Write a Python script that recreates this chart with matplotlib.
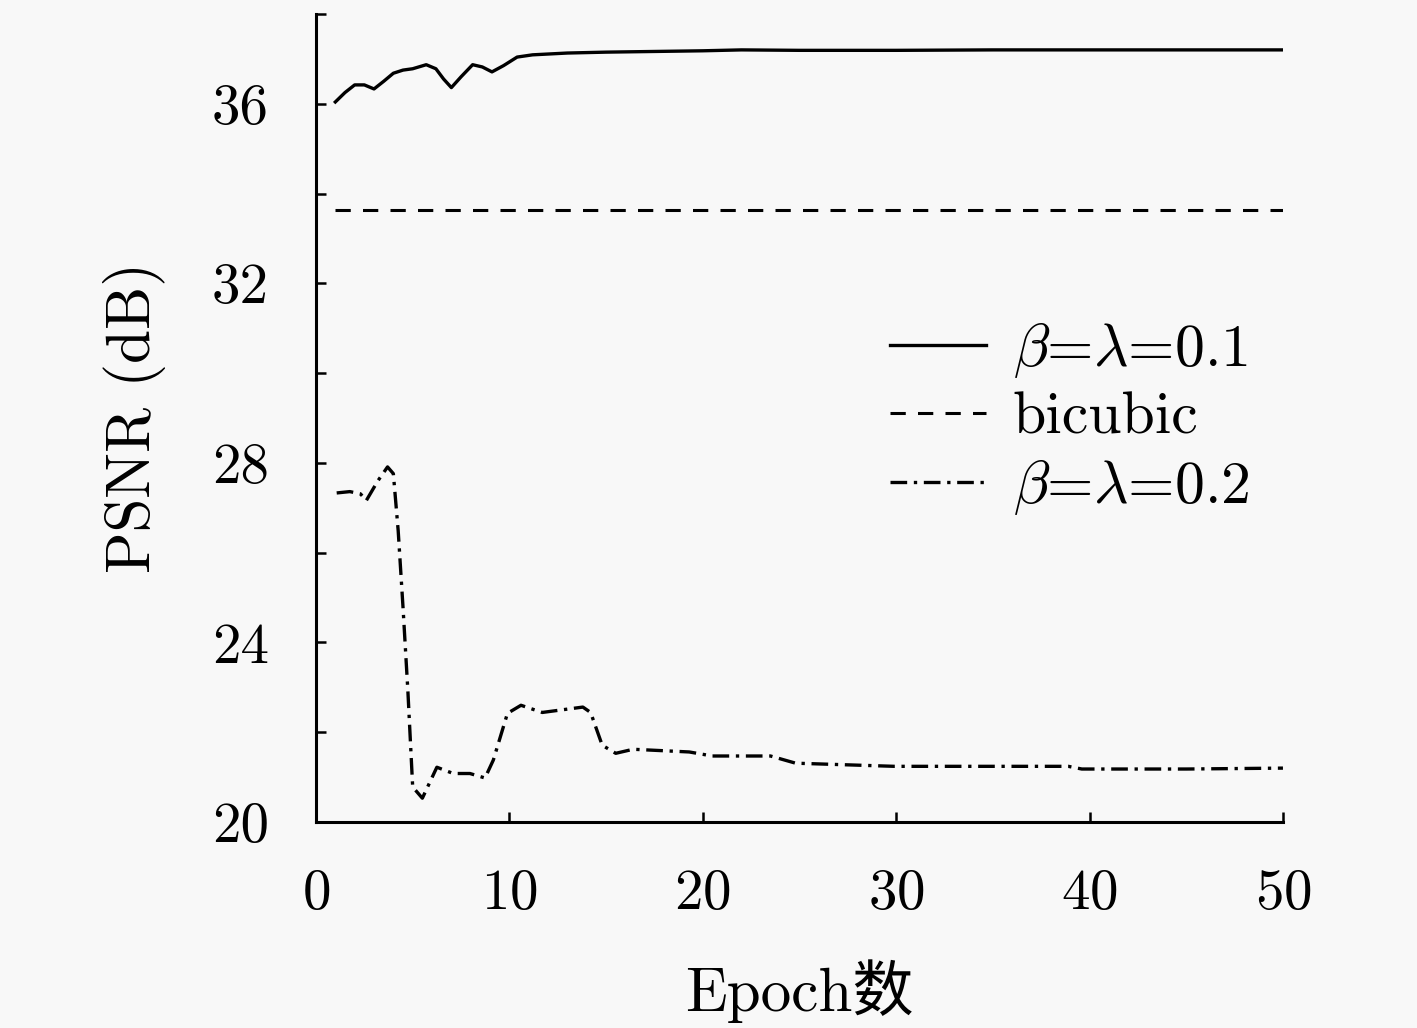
import numpy as np
import matplotlib.pyplot as plt

plt.rcParams['mathtext.fontset'] = 'cm'
plt.rcParams['font.family'] = ['cmr10', 'Noto Sans CJK SC', 'DejaVu Sans']
plt.rcParams['axes.formatter.use_mathtext'] = True

# beta = lambda = 0.1
ep_a = [1.0, 1.5, 2.0, 2.5, 3.0, 3.5, 4.0, 4.5, 5.0, 5.7, 6.2, 6.6, 7.0, 7.5, 8.1,
        8.6, 9.1, 9.7, 10.4, 11.2, 13.0, 15.0, 20.0, 22.0, 25.0, 30.0, 35.0, 40.0, 45.0, 50.0]
psnr_a = [36.04, 36.25, 36.42, 36.42, 36.33, 36.5, 36.68, 36.75, 36.78, 36.87, 36.78, 36.55,
          36.36, 36.6, 36.87, 36.82, 36.71, 36.85, 37.04, 37.09, 37.13, 37.15, 37.18, 37.2,
          37.19, 37.19, 37.2, 37.2, 37.2, 37.2]

# bicubic
ep_b = [1.0, 50.0]
psnr_b = [33.64, 33.64]

# beta = lambda = 0.2
ep_c = [1.07, 1.75, 2.3, 2.6, 3.2, 3.7, 4.0, 4.25, 4.5, 4.75, 5.0, 5.5, 6.25, 7.1, 7.96,
        8.74, 9.17, 9.9, 10.6, 11.7, 13.8, 14.2, 14.8, 15.5, 16.4, 19.3, 20.5, 23.5, 24.8,
        29.9, 38.9, 39.6, 45.0, 50.0]
psnr_c = [27.33, 27.36, 27.31, 27.16, 27.6, 27.91, 27.76, 26.49, 24.78, 22.93, 20.78, 20.53,
          21.22, 21.08, 21.08, 20.98, 21.38, 22.42, 22.6, 22.44, 22.56, 22.44, 21.71, 21.53,
          21.62, 21.56, 21.47, 21.47, 21.31, 21.24, 21.24, 21.18, 21.18, 21.2]

labels = [r'$\beta$=$\lambda$=0.1', 'bicubic', r'$\beta$=$\lambda$=0.2']

fig = plt.figure(figsize=(14.17, 10.28), dpi=100, facecolor='#f8f8f8')
ax = fig.add_axes([0.223, 0.2004, 0.6824, 0.786])
ax.set_facecolor('#f8f8f8')

ax.plot(ep_a, psnr_a, color='black', lw=2.4, label=labels[0])
ax.plot(ep_b, psnr_b, color='black', lw=2.2, dashes=(5, 4), label=labels[1])
ax.plot(ep_c, psnr_c, color='black', lw=2.4, dashes=(5, 2, 1, 2), label=labels[2])

ax.set_xlim(0, 50)
ax.set_ylim(20, 38)
ax.set_xticks(range(0, 51, 10))
ax.set_yticks(range(20, 39, 2))
ax.set_yticklabels([str(v) if v % 4 == 0 and v < 38 else '' for v in range(20, 39, 2)])

for s in ['top', 'right']:
    ax.spines[s].set_visible(False)
for s in ['left', 'bottom']:
    ax.spines[s].set_linewidth(2.2)

ax.tick_params(direction='in', length=7, width=1.8, labelsize=41)
ax.tick_params(axis='y', pad=34)
ax.tick_params(axis='x', pad=34)

ax.set_ylabel('PSNR (dB)', fontsize=44)
ax.yaxis.set_label_coords(-0.155, 0.5)
ax.set_xlabel('Epoch数', fontsize=44)
ax.xaxis.set_label_coords(0.5, -0.17)

ax.legend(loc='center left', bbox_to_anchor=(0.594, 0.499), frameon=False, fontsize=43,
          handlelength=1.6, handletextpad=0.45, labelspacing=0.2, borderpad=0,
          borderaxespad=0)

fig.savefig('out.png', dpi=100, facecolor='#f8f8f8')
